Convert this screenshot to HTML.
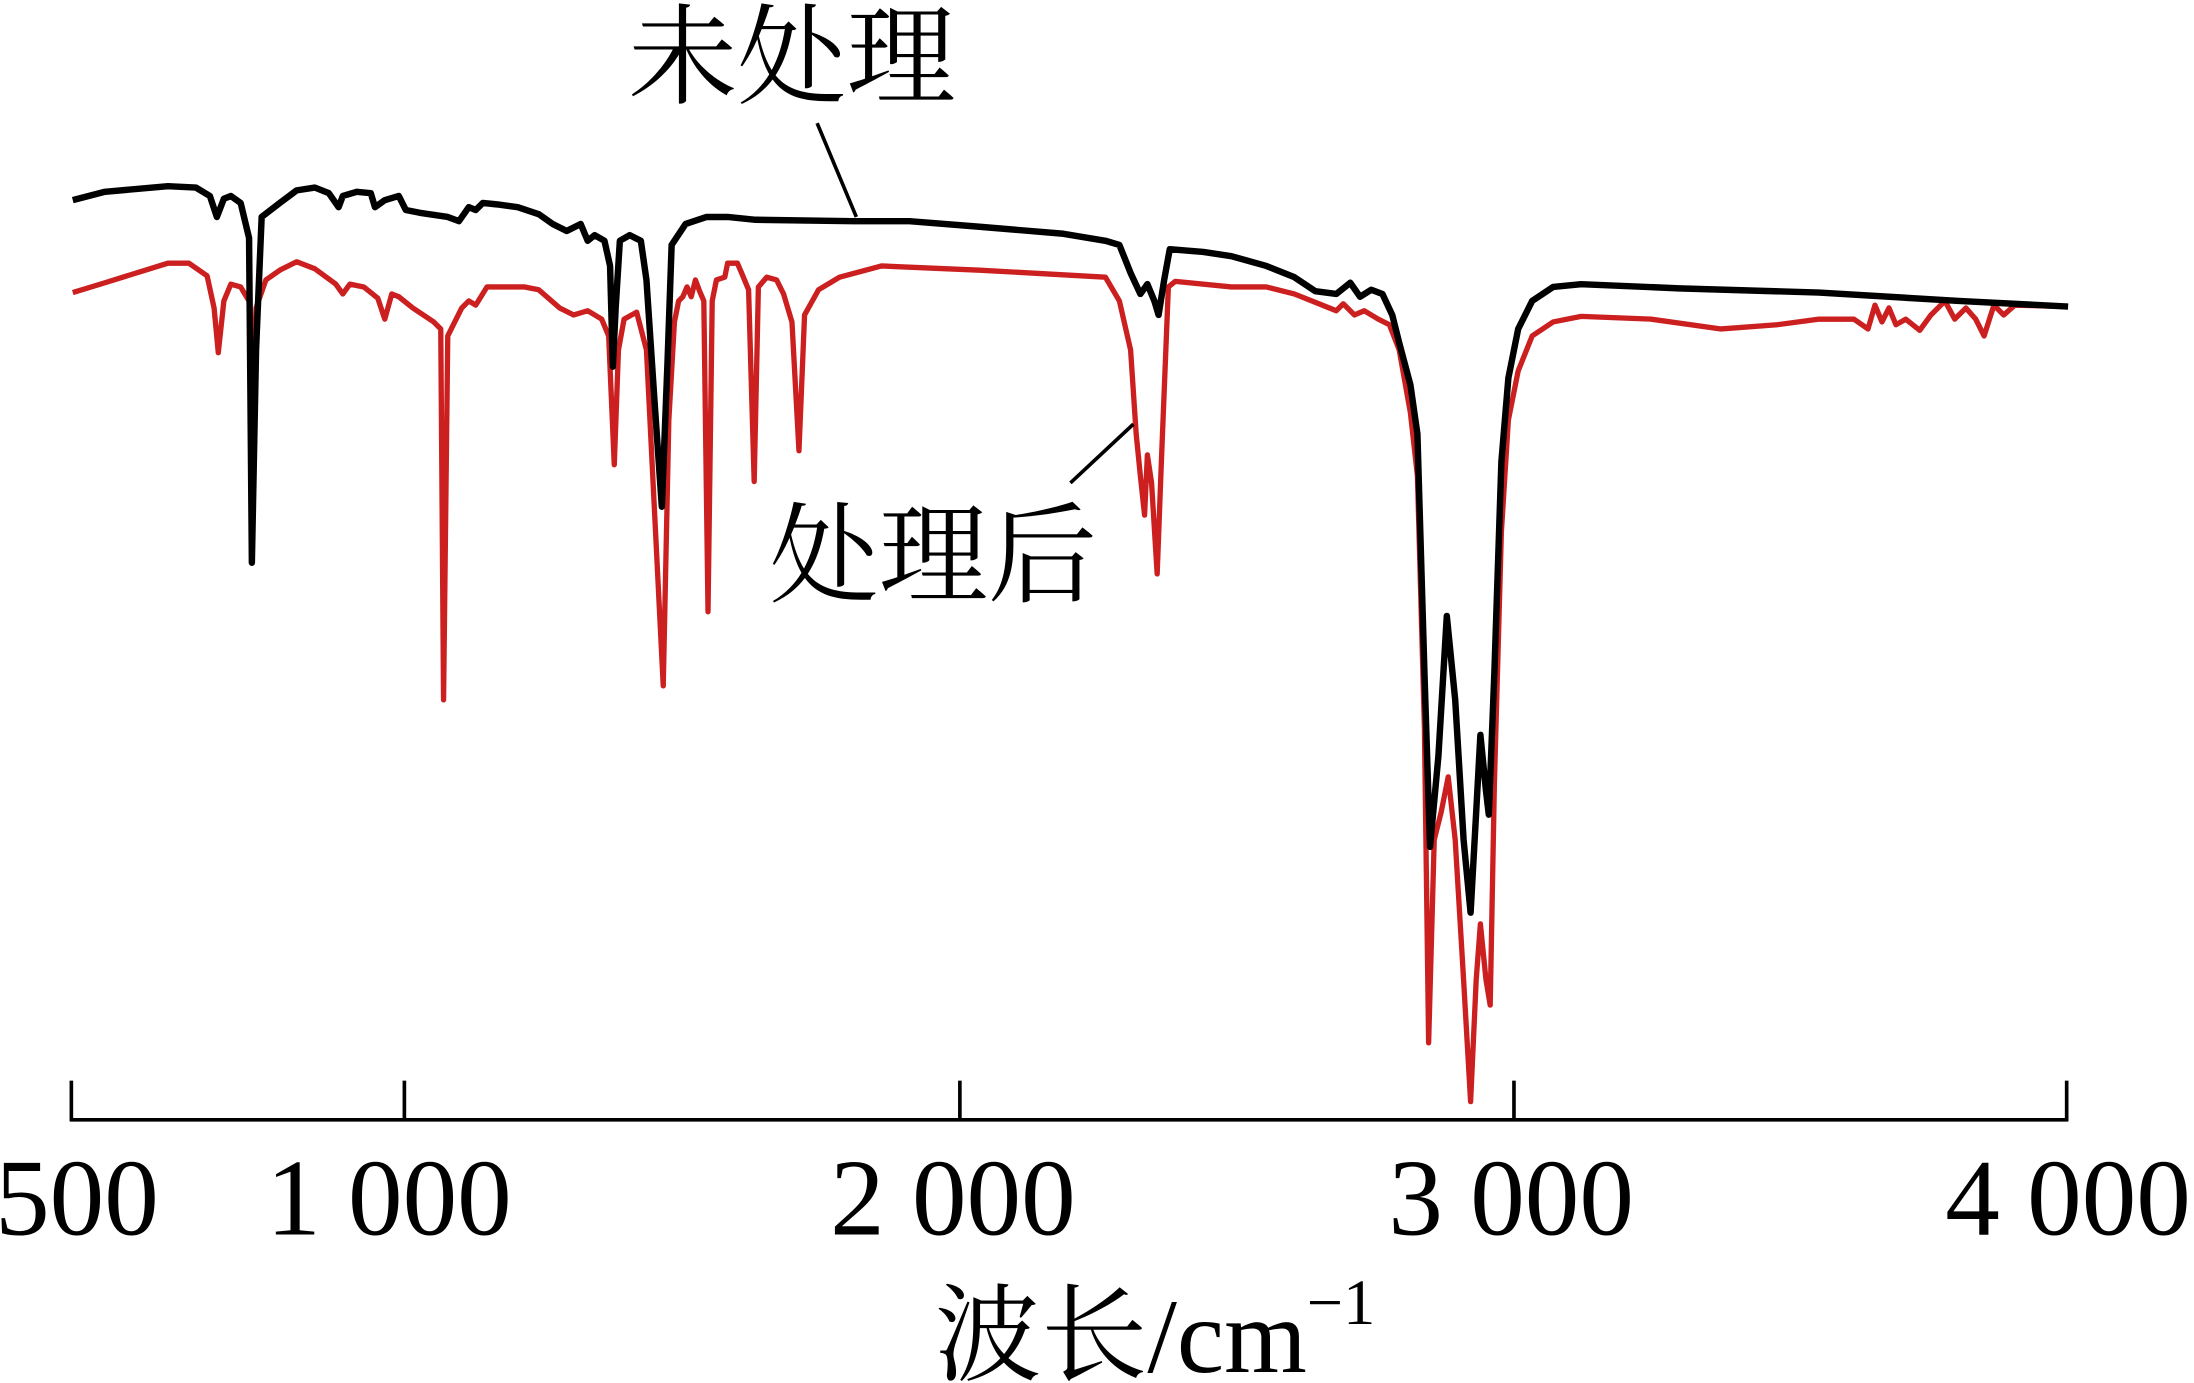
<!DOCTYPE html>
<html><head><meta charset="utf-8">
<style>
html,body{margin:0;padding:0;background:#fff;}
svg{display:block;}
text{font-family:"Liberation Serif","Noto Serif CJK SC","Noto Sans CJK SC",serif;fill:#000;}
</style></head>
<body>
<svg width="2194" height="1383" viewBox="0 0 1568 988" preserveAspectRatio="none">
<rect width="1568" height="988" fill="#fff"/>
<polyline fill="none" stroke="#cc1f1f" stroke-width="3.8" stroke-linejoin="round" points="52,209 75,202 120,188 135,188 148,197 153,220 156,252 160,215 165,203 172,205 178,215 180,290 183,220 190,200 200,193 212,187 225,192 240,203 245,210 250,203 260,205 270,213 275,228 280,210 285,212 295,220 310,230 315,235 317,500 320,240 330,220 335,215 340,218 348,205 375,205 385,207 400,220 410,225 420,222 430,228 435,240 439,332 442,250 446,228 455,223 462,250 468,370 474,490 478,300 482,230 485,215 488,212 491,205 494,212 497,200 500,208 503,215 506,437 509,215 512,200 518,198 520,188 527,188 530,195 535,207 539,344 542,205 548,198 555,200 560,210 566,230 571,322 575,225 585,207 600,198 630,190 700,193 790,198 800,215 808,250 812,310 815,340 818,368 820,325 823,345 827,410 830,330 835,205 840,201 880,205 905,205 925,210 945,218 955,222 960,217 968,225 975,222 985,228 993,232 1000,250 1008,295 1013,340 1018,520 1021,745 1025,600 1030,580 1035,555 1040,600 1046,700 1051,787 1055,700 1058,660 1062,700 1065,718 1068,560 1073,380 1078,300 1085,265 1095,240 1110,230 1130,226 1180,228 1230,235 1270,232 1300,228 1325,228 1335,235 1340,218 1345,230 1350,220 1355,232 1362,228 1372,236 1380,225 1390,215 1397,228 1405,220 1412,228 1418,240 1425,218 1432,225 1440,218 1478,219"/>
<polyline fill="none" stroke="#000" stroke-width="4.6" stroke-linejoin="round" points="52,143 75,137 120,133 140,134 150,140 155,155 160,142 165,140 172,145 178,170 180,402 183,250 187,155 200,145 212,136 225,134 235,138 242,148 245,140 255,137 265,138 268,148 275,143 285,140 290,150 300,152 320,155 328,158 335,148 340,150 345,145 355,146 370,148 385,153 395,160 405,165 415,160 420,172 425,168 432,172 436,190 438,262 440,220 443,172 450,168 458,172 462,200 468,290 473,362 477,260 480,175 490,160 505,155 520,155 540,157 610,158 650,158 700,162 760,167 790,172 800,175 808,195 815,210 820,203 825,215 828,225 832,200 836,178 860,180 880,183 905,190 925,198 940,208 955,210 965,202 972,212 980,207 988,210 995,225 1000,245 1008,275 1013,310 1018,480 1022,605 1028,540 1034,440 1040,500 1046,600 1051,652 1055,580 1058,525 1062,565 1064,582 1068,480 1073,330 1078,270 1085,235 1095,215 1110,205 1130,203 1200,206 1300,209 1400,215 1478,219"/>
<g stroke="#000" stroke-width="2.6" fill="none">
<line x1="50" y1="800" x2="1478" y2="800"/>
<line x1="51" y1="772" x2="51" y2="801"/>
<line x1="289" y1="772" x2="289" y2="801"/>
<line x1="686" y1="772" x2="686" y2="801"/>
<line x1="1082" y1="772" x2="1082" y2="801"/>
<line x1="1477" y1="772" x2="1477" y2="801"/>
<line x1="584" y1="88" x2="612" y2="155"/>
<line x1="765" y1="345" x2="810" y2="303"/>
</g>
<g font-size="78">
<text x="55" y="882" text-anchor="middle">500</text>
<text x="278" y="882" text-anchor="middle">1 000</text>
<text x="681" y="882" text-anchor="middle">2 000</text>
<text x="1080" y="882" text-anchor="middle">3 000</text>
<text x="1478" y="882" text-anchor="middle">4 000</text>
</g>
<text x="668" y="980" font-size="76">波长/cm<tspan font-size="46" dy="-34">−1</tspan></text>
<text x="449" y="68" font-size="78">未处理</text>
<text x="550" y="424" font-size="78">处理后</text>
</svg>
</body></html>
